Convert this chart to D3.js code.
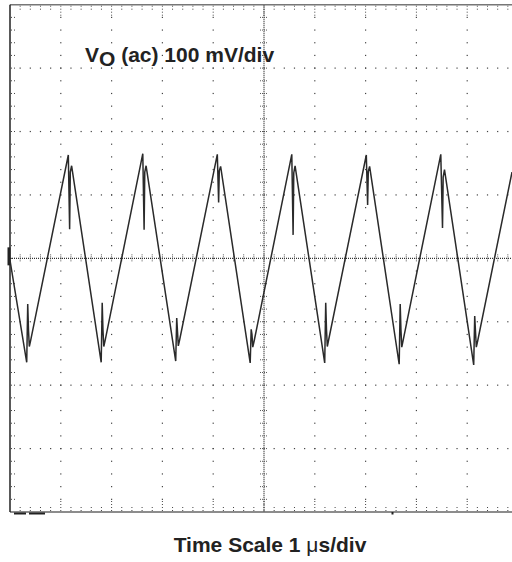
<!DOCTYPE html>
<html><head><meta charset="utf-8">
<script src="https://cdn.jsdelivr.net/npm/d3@7"></script>
<style>body{margin:0;background:#fff;} svg{display:block;}</style>
</head><body>
<script>
// ---- data ----
const timeUs = [0.000,
  0.329,0.349,0.364,0.380,0.408, 1.148,1.174,1.187,1.213,
  1.795,1.815,1.830,1.846,1.874, 2.614,2.640,2.653,2.679,
  3.262,3.282,3.297,3.313,3.341, 4.081,4.107,4.120,4.146,
  4.728,4.748,4.763,4.779,4.807, 5.547,5.573,5.586,5.612,
  6.195,6.215,6.230,6.246,6.274, 7.014,7.040,7.053,7.079,
  7.661,7.681,7.696,7.712,7.740, 8.480,8.514,8.527,8.553,
  9.128,9.148,9.163,9.179,9.207, 9.882];
const voltageMv = [-3,
  -164,-72,-113,-139,-129, 163,46,136,146,
  -164,-70,-113,-139,-129, 165,45,136,146,
  -162,-94,-115,-138,-128, 164,88,138,145,
  -165,-112,-120,-140,-130, 164,37,135,146,
  -165,-70,-112,-139,-128, 163,84,137,145,
  -167,-72,-113,-140,-129, 164,48,128,140,
  -168,-91,-115,-140,-130, 136];
const xTicks = [0,1,2,3,4,5,6,7,8,9,10];            // µs, 1 µs/div
const yTicks = [-400,-300,-200,-100,0,100,200,300,400]; // mV, 100 mV/div
const channelLabel = ["V", "O", " (ac) 100 mV/div"];
const timeLabel = ["Time Scale 1 ", "\u03bc", "s/div"];

const W = 512, H = 562;
const svg = d3.select("body").append("svg").attr("width", W).attr("height", H);
const x = d3.scaleLinear().domain([0, 10]).range([10, 518]);
const y = d3.scaleLinear().domain([-400, 400]).range([512, 4.7]);

const minorX = d3.range(0, 10.0001, 0.2);
const minorY = d3.range(-400, 400.0001, 20);
const dotColor = "#444";
const g = svg.append("g");

// major grid dots (non-center)
xTicks.filter(t => t > 0 && t < 10 && t !== 5).forEach(t => {
  g.selectAll(null).data(minorY.filter(v => v > -400 && v < 400)).enter().append("rect")
    .attr("x", x(t) - 0.6).attr("y", d => y(d) - 0.6).attr("width", 1.2).attr("height", 1.2).attr("fill", dotColor);
});
yTicks.filter(v => v > -400 && v < 400 && v !== 0).forEach(v => {
  g.selectAll(null).data(minorX.filter(t => t > 0 && t < 10)).enter().append("rect")
    .attr("x", d => x(d) - 0.6).attr("y", y(v) - 0.6).attr("width", 1.2).attr("height", 1.2).attr("fill", dotColor);
});

// edge ticks
minorX.filter(t => t > 0 && t < 10).forEach(t => {
  const major = Math.abs(t - Math.round(t)) < 1e-6;
  const len = major ? 12 : 4;
  g.append("line").attr("x1", x(t)).attr("x2", x(t)).attr("y1", y(400) + 1).attr("y2", y(400) + 1 + len)
    .attr("stroke", dotColor).attr("stroke-width", 1).attr("stroke-dasharray", "1,2");
  g.append("line").attr("x1", x(t)).attr("x2", x(t)).attr("y1", y(-400) - 1).attr("y2", y(-400) - 1 - len)
    .attr("stroke", dotColor).attr("stroke-width", 1).attr("stroke-dasharray", "1,2");
});
minorY.filter(v => v > -400 && v < 400).forEach(v => {
  g.append("line").attr("x1", x(0) + 1).attr("x2", x(0) + 5).attr("y1", y(v)).attr("y2", y(v))
    .attr("stroke", dotColor).attr("stroke-width", 1).attr("stroke-dasharray", "1,2");
});

// center axes
g.append("line").attr("x1", x(0)).attr("x2", x(10)).attr("y1", y(0)).attr("y2", y(0))
  .attr("stroke", "#333").attr("stroke-width", 1.3).attr("stroke-dasharray", "1,1");
g.append("line").attr("x1", x(5)).attr("x2", x(5)).attr("y1", y(400)).attr("y2", y(-400))
  .attr("stroke", "#333").attr("stroke-width", 1.3).attr("stroke-dasharray", "1,1");
minorX.filter(t => t > 0 && t < 10).forEach(t => {
  g.append("line").attr("x1", x(t)).attr("x2", x(t)).attr("y1", y(0) - 4).attr("y2", y(0) + 4)
    .attr("stroke", "#555").attr("stroke-width", 1).attr("stroke-dasharray", "1,1");
});
minorY.filter(v => v > -400 && v < 400).forEach(v => {
  g.append("line").attr("x1", x(5) - 4).attr("x2", x(5) + 4).attr("y1", y(v)).attr("y2", y(v))
    .attr("stroke", "#555").attr("stroke-width", 1).attr("stroke-dasharray", "1,1");
});

// borders
g.append("line").attr("x1", x(0)).attr("x2", W).attr("y1", y(400)).attr("y2", y(400)).attr("stroke", "#777").attr("stroke-width", 1.5);
g.append("line").attr("x1", x(0)).attr("x2", W).attr("y1", y(-400)).attr("y2", y(-400)).attr("stroke", "#666").attr("stroke-width", 1.5);
g.append("line").attr("x1", x(0)).attr("x2", x(0)).attr("y1", y(400)).attr("y2", y(-400)).attr("stroke", "#222").attr("stroke-width", 1.5);

// markers
g.append("rect").attr("x", x(0) - 2.5).attr("y", y(0) - 11).attr("width", 3).attr("height", 18).attr("fill", "#222");
g.append("line").attr("x1", x(0) + 4).attr("x2", x(0) + 16).attr("y1", y(-400) + 1.5).attr("y2", y(-400) + 1.5).attr("stroke", "#222").attr("stroke-width", 2);
g.append("line").attr("x1", x(0) + 19).attr("x2", x(0) + 35).attr("y1", y(-400) + 1.5).attr("y2", y(-400) + 1.5).attr("stroke", "#222").attr("stroke-width", 2);
g.append("rect").attr("x", 391.5).attr("y", y(-400)).attr("width", 2).attr("height", 2.5).attr("fill", "#222");

// trace
const pts = timeUs.map((t, i) => [t, voltageMv[i]]);
const line = d3.line().x(d => x(d[0])).y(d => y(d[1]));
svg.append("path").datum(pts).attr("d", line).attr("fill", "none")
  .attr("stroke", "#2a2a2a").attr("stroke-width", 1.5).attr("stroke-linejoin", "miter");

// labels
const font = "'Liberation Sans', Arial, Helvetica, sans-serif";
const t1 = svg.append("text").attr("x", 85).attr("y", 61.7).attr("font-family", font)
  .attr("font-weight", "bold").attr("font-size", 21).attr("fill", "#222");
t1.append("tspan").text(channelLabel[0]);
t1.append("tspan").attr("dy", 4.5).text(channelLabel[1]);
t1.append("tspan").attr("dy", -4.5).text(channelLabel[2]);

const t2 = svg.append("text").attr("x", 270).attr("y", 551.7).attr("text-anchor", "middle")
  .attr("font-family", font).attr("font-weight", "bold").attr("font-size", 21).attr("fill", "#222");
t2.append("tspan").text(timeLabel[0]);
t2.append("tspan").attr("font-weight", "normal").text(timeLabel[1]);
t2.append("tspan").text(timeLabel[2]);
</script>
</body></html>
